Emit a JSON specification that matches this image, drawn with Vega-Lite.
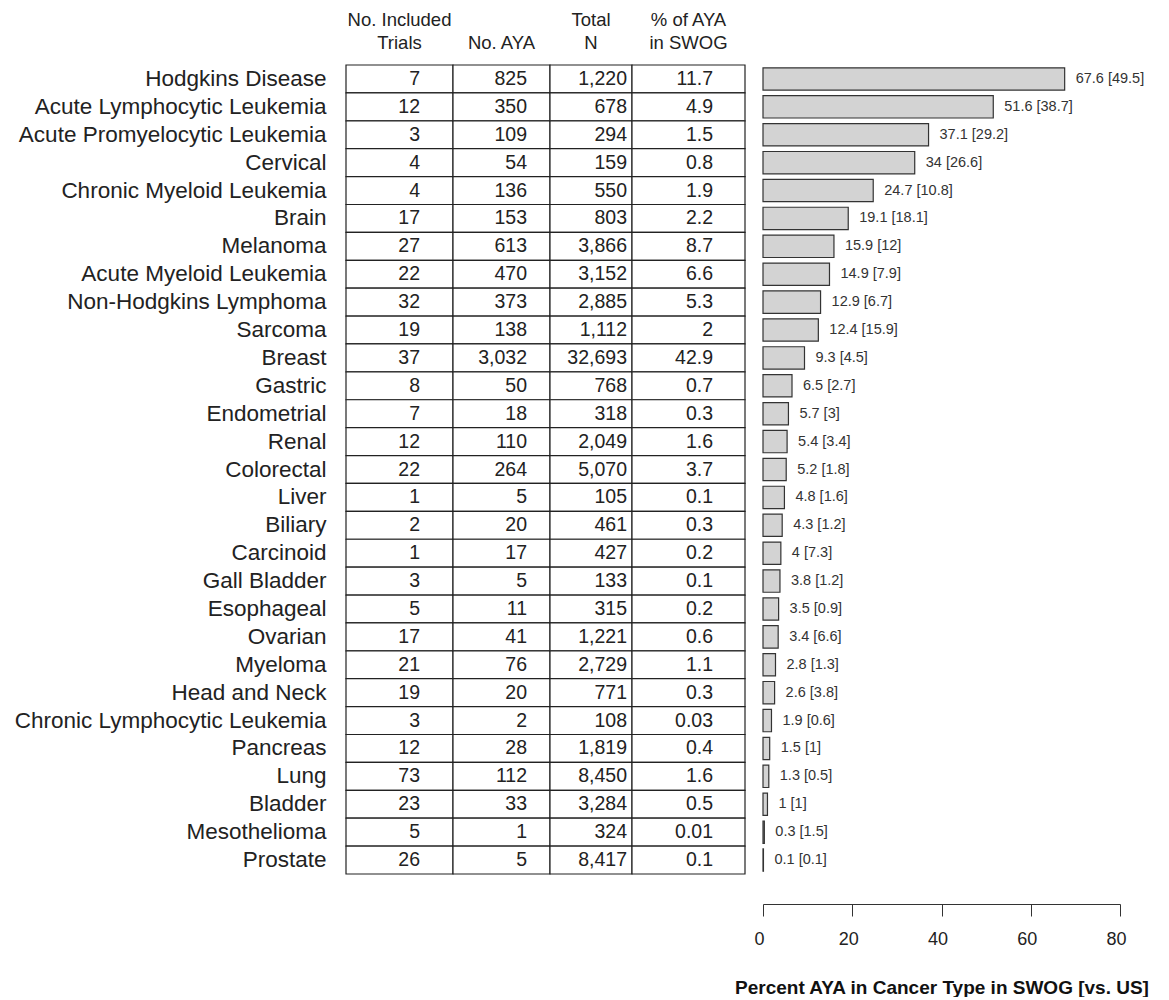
{
  "$schema": "https://vega.github.io/schema/vega-lite/v6.json",
  "autosize": {"type": "pad"},
  "padding": {"left": 10, "top": 10, "right": 0, "bottom": 0},
  "background": "white",
  "config": {
    "font": "Liberation Sans",
    "view": {"stroke": null},
    "title": {"font": "Liberation Sans", "fontWeight": "normal", "color": "#222", "fontSize": 18.5, "lineHeight": 23, "anchor": "middle", "offset": 12},
    "axis": {"labelFont": "Liberation Sans", "titleFont": "Liberation Sans", "grid": false}
  },
  "datasets": {
    "rows": [
      {"name": "Hodgkins Disease", "trials": 7, "aya": 825, "total": 1220, "pct": "11.7", "swog": 67.6, "us": 49.5},
      {"name": "Acute Lymphocytic Leukemia", "trials": 12, "aya": 350, "total": 678, "pct": "4.9", "swog": 51.6, "us": 38.7},
      {"name": "Acute Promyelocytic Leukemia", "trials": 3, "aya": 109, "total": 294, "pct": "1.5", "swog": 37.1, "us": 29.2},
      {"name": "Cervical", "trials": 4, "aya": 54, "total": 159, "pct": "0.8", "swog": 34, "us": 26.6},
      {"name": "Chronic Myeloid Leukemia", "trials": 4, "aya": 136, "total": 550, "pct": "1.9", "swog": 24.7, "us": 10.8},
      {"name": "Brain", "trials": 17, "aya": 153, "total": 803, "pct": "2.2", "swog": 19.1, "us": 18.1},
      {"name": "Melanoma", "trials": 27, "aya": 613, "total": 3866, "pct": "8.7", "swog": 15.9, "us": 12},
      {"name": "Acute Myeloid Leukemia", "trials": 22, "aya": 470, "total": 3152, "pct": "6.6", "swog": 14.9, "us": 7.9},
      {"name": "Non-Hodgkins Lymphoma", "trials": 32, "aya": 373, "total": 2885, "pct": "5.3", "swog": 12.9, "us": 6.7},
      {"name": "Sarcoma", "trials": 19, "aya": 138, "total": 1112, "pct": "2", "swog": 12.4, "us": 15.9},
      {"name": "Breast", "trials": 37, "aya": 3032, "total": 32693, "pct": "42.9", "swog": 9.3, "us": 4.5},
      {"name": "Gastric", "trials": 8, "aya": 50, "total": 768, "pct": "0.7", "swog": 6.5, "us": 2.7},
      {"name": "Endometrial", "trials": 7, "aya": 18, "total": 318, "pct": "0.3", "swog": 5.7, "us": 3},
      {"name": "Renal", "trials": 12, "aya": 110, "total": 2049, "pct": "1.6", "swog": 5.4, "us": 3.4},
      {"name": "Colorectal", "trials": 22, "aya": 264, "total": 5070, "pct": "3.7", "swog": 5.2, "us": 1.8},
      {"name": "Liver", "trials": 1, "aya": 5, "total": 105, "pct": "0.1", "swog": 4.8, "us": 1.6},
      {"name": "Biliary", "trials": 2, "aya": 20, "total": 461, "pct": "0.3", "swog": 4.3, "us": 1.2},
      {"name": "Carcinoid", "trials": 1, "aya": 17, "total": 427, "pct": "0.2", "swog": 4, "us": 7.3},
      {"name": "Gall Bladder", "trials": 3, "aya": 5, "total": 133, "pct": "0.1", "swog": 3.8, "us": 1.2},
      {"name": "Esophageal", "trials": 5, "aya": 11, "total": 315, "pct": "0.2", "swog": 3.5, "us": 0.9},
      {"name": "Ovarian", "trials": 17, "aya": 41, "total": 1221, "pct": "0.6", "swog": 3.4, "us": 6.6},
      {"name": "Myeloma", "trials": 21, "aya": 76, "total": 2729, "pct": "1.1", "swog": 2.8, "us": 1.3},
      {"name": "Head and Neck", "trials": 19, "aya": 20, "total": 771, "pct": "0.3", "swog": 2.6, "us": 3.8},
      {"name": "Chronic Lymphocytic Leukemia", "trials": 3, "aya": 2, "total": 108, "pct": "0.03", "swog": 1.9, "us": 0.6},
      {"name": "Pancreas", "trials": 12, "aya": 28, "total": 1819, "pct": "0.4", "swog": 1.5, "us": 1},
      {"name": "Lung", "trials": 73, "aya": 112, "total": 8450, "pct": "1.6", "swog": 1.3, "us": 0.5},
      {"name": "Bladder", "trials": 23, "aya": 33, "total": 3284, "pct": "0.5", "swog": 1, "us": 1},
      {"name": "Mesothelioma", "trials": 5, "aya": 1, "total": 324, "pct": "0.01", "swog": 0.3, "us": 1.5},
      {"name": "Prostate", "trials": 26, "aya": 5, "total": 8417, "pct": "0.1", "swog": 0.1, "us": 0.1}
    ]
  },
  "spacing": -13,
  "hconcat": [
    {
      "spacing": 0,
      "bounds": "flush",
      "hconcat": [
        {
          "width": 107,
          "height": 809,
          "title": {"text": ["No. Included", "Trials"]},
          "data": {"name": "rows"},
          "encoding": {
            "y": {
              "field": "name", "type": "nominal", "sort": null,
              "scale": {"paddingInner": 0, "paddingOuter": 0},
              "axis": {"title": null, "domain": false, "ticks": false, "labelFontSize": 22.5, "labelPadding": 20, "labelColor": "#222", "labelLimit": 400, "minExtent": 336, "maxExtent": 336}
            }
          },
          "layer": [
            {"mark": {"type": "rect", "fill": "white", "stroke": "#222", "strokeWidth": 1.2}},
            {"mark": {"type": "text", "align": "right", "dx": 20.5, "fontSize": 19.5, "color": "#222"},
             "encoding": {"text": {"field": "trials", "type": "quantitative", "format": ","}}}
          ]
        },
        {
          "width": 97,
          "height": 809,
          "title": {"text": ["", "No. AYA"]},
          "data": {"name": "rows"},
          "encoding": {
            "y": {"field": "name", "type": "nominal", "sort": null, "scale": {"paddingInner": 0, "paddingOuter": 0}, "axis": null}
          },
          "layer": [
            {"mark": {"type": "rect", "fill": "white", "stroke": "#222", "strokeWidth": 1.2}},
            {"mark": {"type": "text", "align": "right", "dx": 25.5, "fontSize": 19.5, "color": "#222"},
             "encoding": {"text": {"field": "aya", "type": "quantitative", "format": ","}}}
          ]
        },
        {
          "width": 82,
          "height": 809,
          "title": {"text": ["Total", "N"]},
          "data": {"name": "rows"},
          "encoding": {
            "y": {"field": "name", "type": "nominal", "sort": null, "scale": {"paddingInner": 0, "paddingOuter": 0}, "axis": null}
          },
          "layer": [
            {"mark": {"type": "rect", "fill": "white", "stroke": "#222", "strokeWidth": 1.2}},
            {"mark": {"type": "text", "align": "right", "dx": 36, "fontSize": 19.5, "color": "#222"},
             "encoding": {"text": {"field": "total", "type": "quantitative", "format": ","}}}
          ]
        },
        {
          "width": 113,
          "height": 809,
          "title": {"text": ["% of AYA", "in SWOG"]},
          "data": {"name": "rows"},
          "encoding": {
            "y": {"field": "name", "type": "nominal", "sort": null, "scale": {"paddingInner": 0, "paddingOuter": 0}, "axis": null}
          },
          "layer": [
            {"mark": {"type": "rect", "fill": "white", "stroke": "#222", "strokeWidth": 1.2}},
            {"mark": {"type": "text", "align": "right", "dx": 24.5, "fontSize": 19.5, "color": "#222"},
             "encoding": {"text": {"field": "pct", "type": "nominal"}}}
          ]
        }
      ]
    },
    {
      "width": 357,
      "height": 809,
      "data": {"name": "rows"},
      "encoding": {
        "y": {"field": "name", "type": "nominal", "sort": null, "scale": {"paddingInner": 0.2, "paddingOuter": 0.1}, "axis": null},
        "x": {
          "field": "swog", "type": "quantitative",
          "scale": {"domain": [0, 80], "nice": false},
          "axis": {
            "values": [0, 20, 40, 60, 80], "offset": 30, "tickSize": 12, "tickColor": "#333", "domainColor": "#333",
            "labelFontSize": 18, "labelPadding": 14, "labelColor": "#222", "labelFlush": false, "labelOffset": -4,
            "title": "Percent AYA in Cancer Type in SWOG [vs. US]", "titleFontSize": 19, "titleFontWeight": "bold",
            "titleColor": "#111", "titlePadding": 30
          }
        }
      },
      "layer": [
        {"mark": {"type": "bar", "fill": "#d3d3d3", "stroke": "#333", "strokeWidth": 1.2}},
        {"mark": {"type": "text", "align": "left", "dx": 11, "fontSize": 14.5, "color": "#333",
                  "text": {"expr": "datum.swog + ' [' + datum.us + ']'"}}}
      ]
    }
  ]
}
